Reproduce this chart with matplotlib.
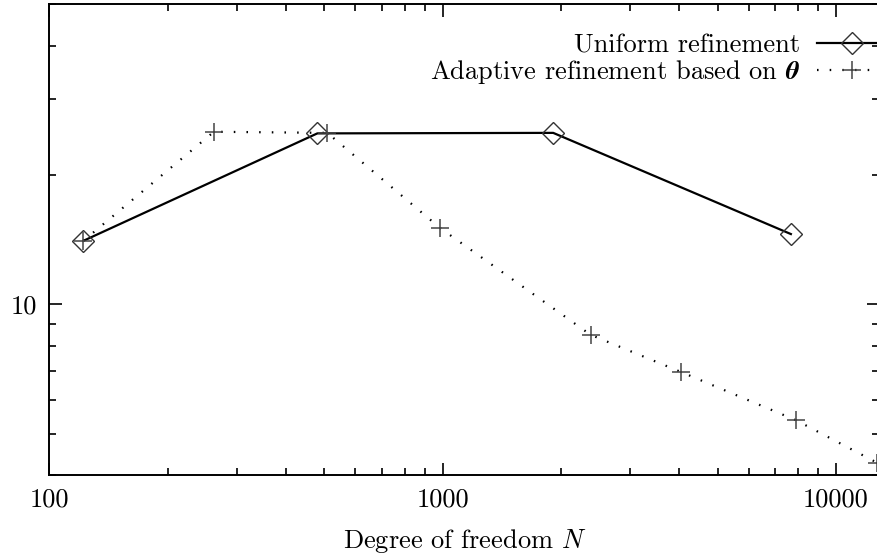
import matplotlib
matplotlib.use("Agg")
import matplotlib.pyplot as plt
from matplotlib.ticker import FuncFormatter, NullFormatter

plt.rcParams['font.family'] = ['cmr10', 'DejaVu Serif']
plt.rcParams['mathtext.fontset'] = 'cm'
plt.rcParams['axes.formatter.use_mathtext'] = True
plt.rcParams['font.size'] = 19

# Data
N_uniform = [122, 480, 1910, 7680]
err_uniform = [14.06, 25.0, 25.07, 14.58]
N_adaptive = [122, 262, 509, 984, 2377, 4028, 7909, 12740]
err_adaptive = [14.06, 25.22, 25.07, 15.07, 8.50, 6.97, 5.38, 4.28]
label_uniform = r'Uniform refinement'
label_adaptive = r'Adaptive refinement based on $\mathbfit{\theta}$'
xlabel = r'Degree of freedom $N$'

fig = plt.figure(figsize=(8.78, 5.56), dpi=100)
ax = fig.add_axes([0.05626, 0.1448, 0.9454, 0.8480])

ax.plot(N_uniform, err_uniform, color='black', lw=1.6, marker='D', markersize=11,
        markerfacecolor='none', markeredgecolor='#333333', markeredgewidth=1.0,
        label=label_uniform)
ax.plot(N_adaptive, err_adaptive, color='black', lw=1.6, linestyle=(0, (0.7, 5.0)),
        marker='+', markersize=13, markeredgecolor='#444444', markeredgewidth=1.1,
        label=label_adaptive)

ax.set_xscale('log')
ax.set_yscale('log')
ax.set_xlim(100, 12900)
ax.set_ylim(4, 50)

fmt = FuncFormatter(lambda v, _: f'{v:g}')
ax.xaxis.set_major_formatter(fmt)
ax.yaxis.set_major_formatter(fmt)
ax.xaxis.set_minor_formatter(NullFormatter())
ax.yaxis.set_minor_formatter(NullFormatter())

ax.tick_params(which='both', direction='in', top=True, right=True, width=1.2, color='black')
ax.tick_params(which='major', length=9, pad=9)
ax.tick_params(which='minor', length=4.7)
for s in ax.spines.values():
    s.set_linewidth(1.4)

ax.set_xlabel(xlabel, labelpad=11)

ax.legend(loc='upper right', bbox_to_anchor=(1.008, 0.937), markerfirst=False, frameon=False,
          handlelength=2.6, handletextpad=0.66, labelspacing=0.02, borderpad=0, borderaxespad=0)

fig.savefig('out.png', dpi=100)
